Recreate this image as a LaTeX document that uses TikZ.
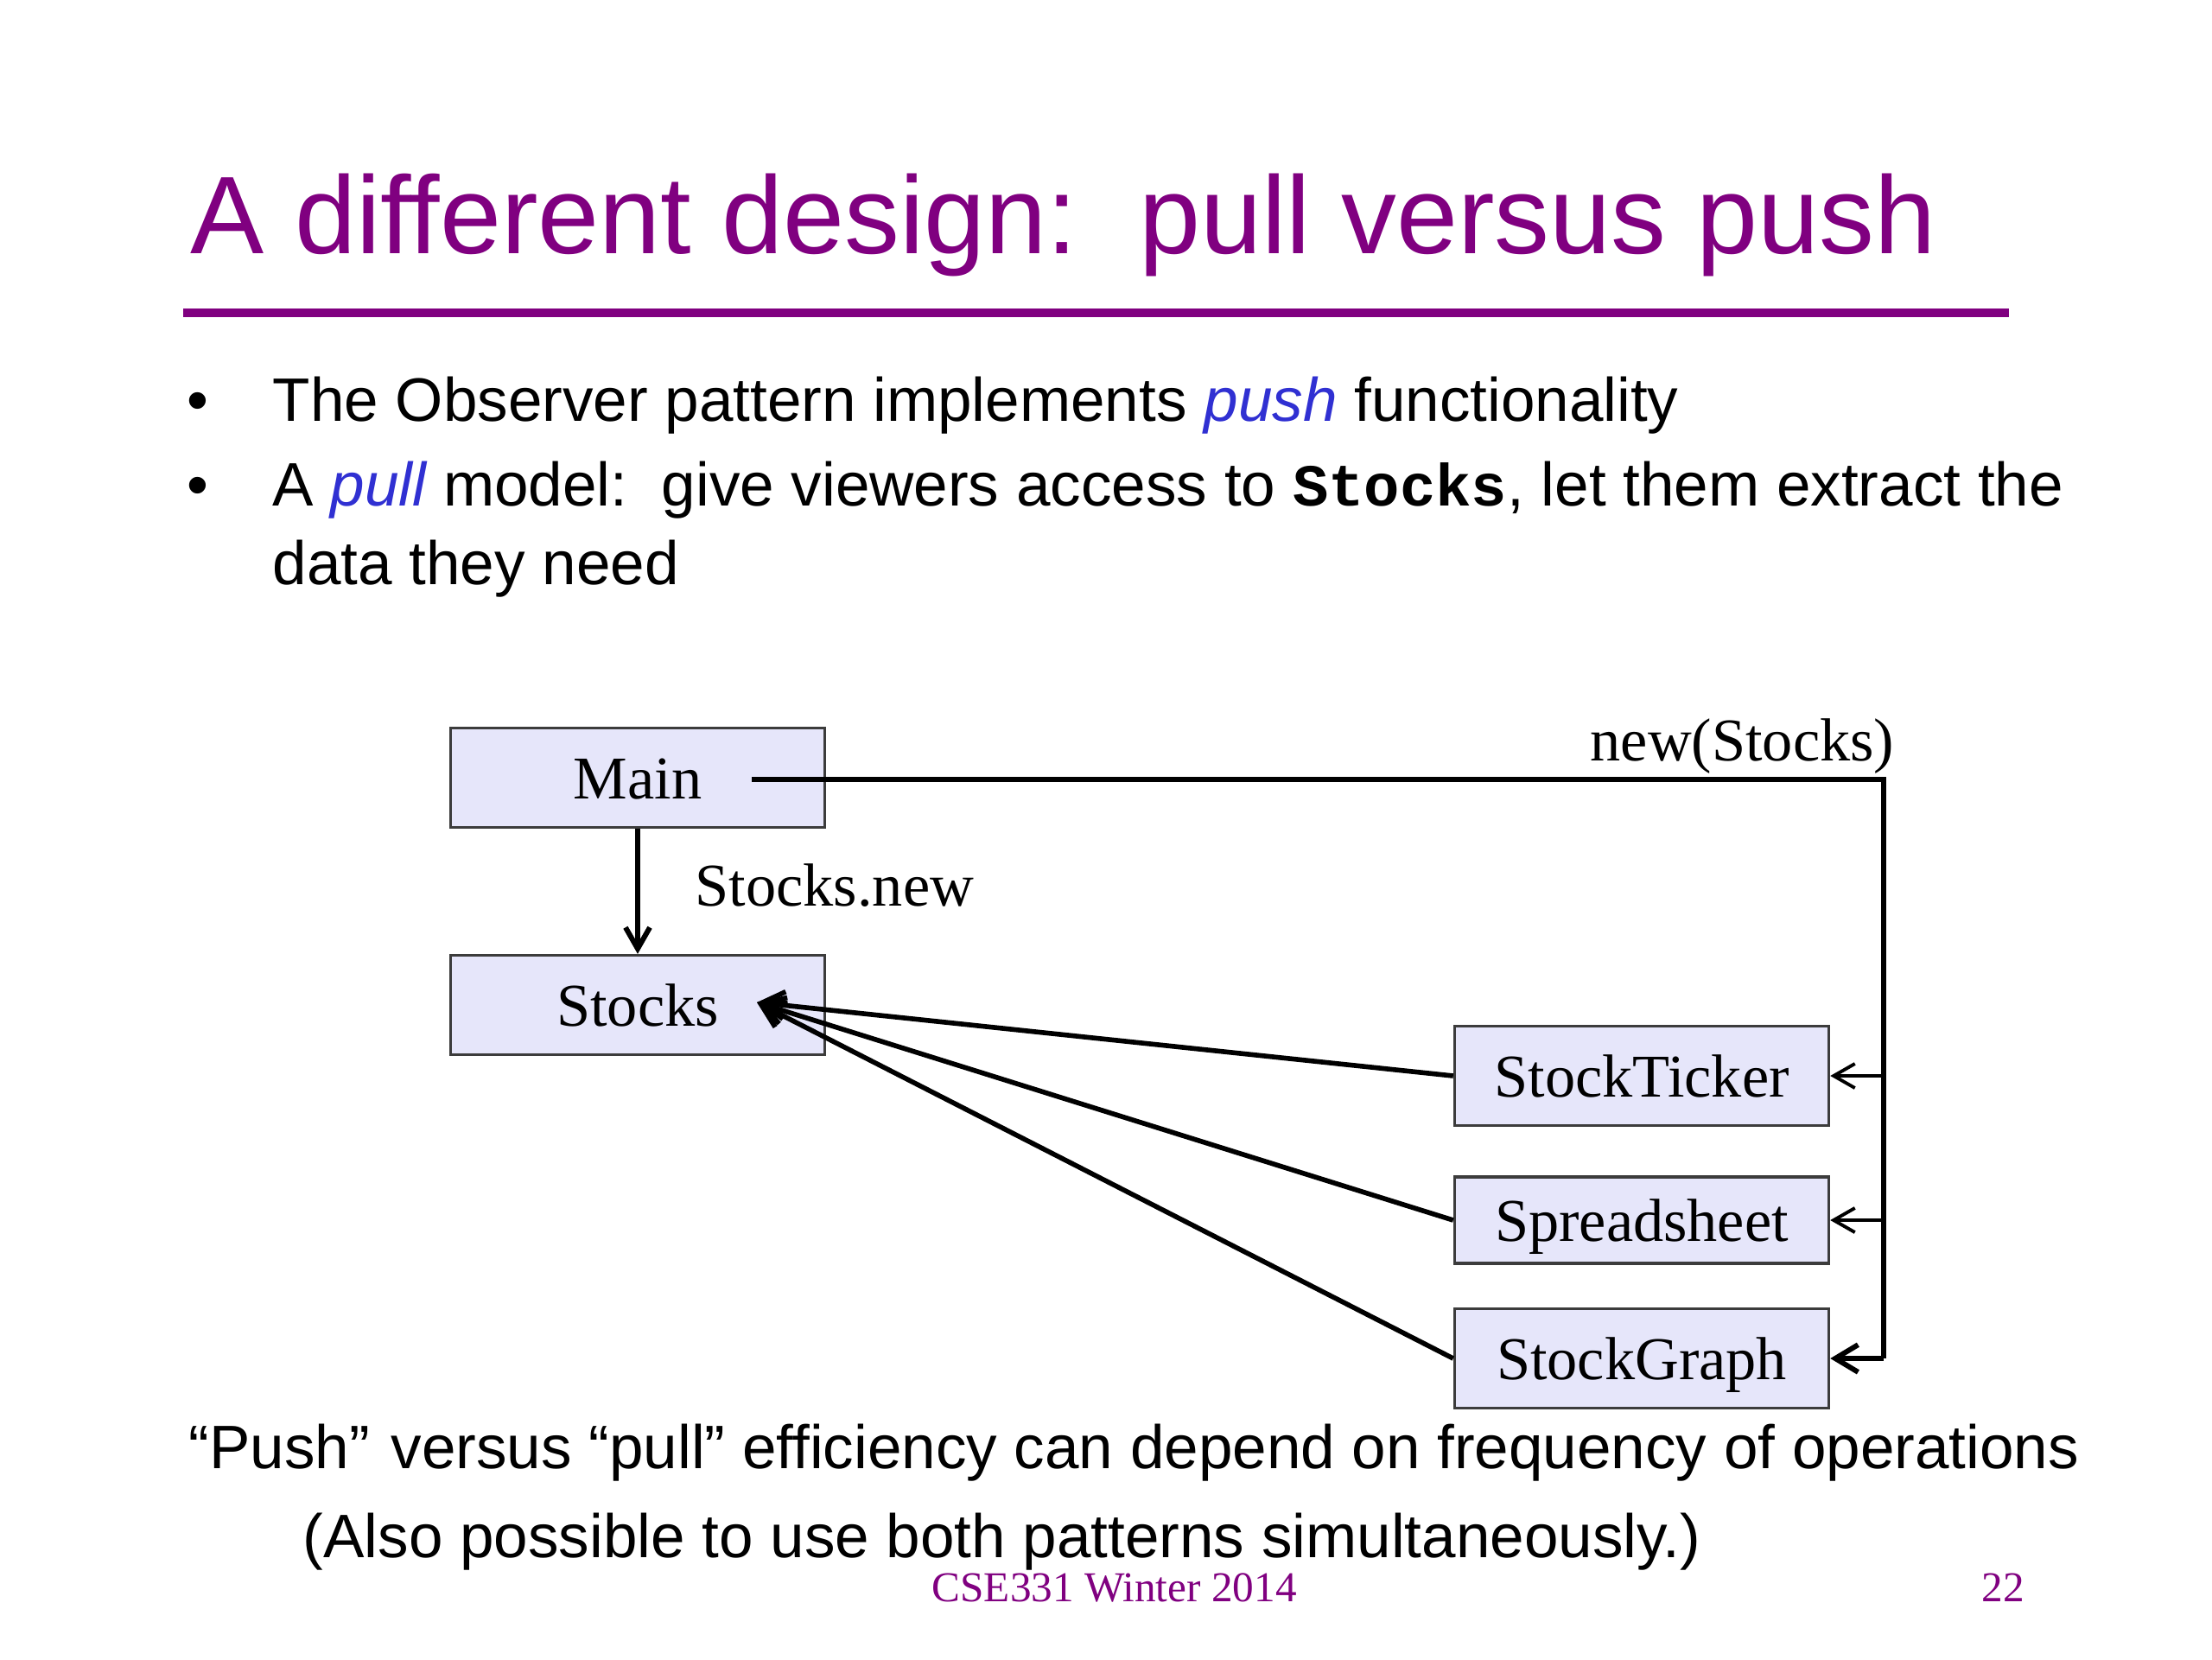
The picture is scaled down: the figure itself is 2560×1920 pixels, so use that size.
\documentclass[tikz,border=0pt]{standalone}
\usepackage{fontspec}
\setmainfont{Liberation Serif}
\newfontfamily\arialfont{Liberation Sans}
\newfontfamily\courfont{Liberation Mono}
\usetikzlibrary{arrows.meta}

\definecolor{slidepurple}{RGB}{128,0,128}
\definecolor{emblue}{RGB}{48,48,210}
\definecolor{boxfill}{RGB}{230,230,250}
\definecolor{boxline}{RGB}{60,60,60}

\tikzset{
	classbox/.style={draw=boxline, fill=boxfill, line width=0.9pt, minimum width=4.33cm,
		minimum height=1.15cm, inner sep=0pt, font=\fontsize{20}{24}\selectfont,
		text height=14.2pt, text depth=0pt},
	link/.style={line width=1.7pt},
	barb/.style={-{Straight Barb[length=7pt,width=8pt]}},
	slidetext/.style={anchor=base west, inner sep=0pt, font=\arialfont\fontsize{20.2}{24}\selectfont}
}

\begin{document}
\begin{tikzpicture}[x=0.01cm, y=-0.01cm]
	\useasboundingbox (0,0) rectangle (2560,1920);

	% title
	\node[anchor=base west, inner sep=0pt, text=slidepurple,
		font=\arialfont\fontsize{36.3}{40}\selectfont] (title) at (220,293)
		{A different design:\ \ pull versus push};
	\draw[slidepurple, line width=3.1pt] (212,362) -- (2325,362);

	% bullets
	\node[slidetext] (dot1) at (216,487) {\textbullet};
	\node[slidetext] (item1) at (315,487)
		{The Observer pattern implements {\color{emblue}\itshape push} functionality};
	\node[slidetext] (dot2) at (216,585) {\textbullet};
	\node[slidetext] (item2) at (315,585)
		{A {\color{emblue}\itshape pull} model:\ \ give viewers access to {\courfont\bfseries\fontsize{19.6}{24}\selectfont Stocks}, let them extract the};
	\node[slidetext] (item2b) at (315,676) {data they need};

	% classes
	\node[classbox] (main) at (738,900) {Main};
	\node[classbox] (stocks) at (738,1163) {Stocks};
	\node[classbox] (ticker) at (1900,1245) {StockTicker};
	\node[classbox, minimum height=1.0cm] (sheet) at (1900,1412) {Spreadsheet};
	\node[classbox] (graph) at (1900,1572) {StockGraph};

	% Main creates Stocks
	\draw[link, barb] (main.south) -- (stocks.north);
	\node[anchor=base west, inner sep=0pt, font=\fontsize{20}{24}\selectfont] (newlbl) at (804,1048) {Stocks.new};

	% Main hands Stocks to the viewers
	\coordinate (mainout) at (870,902);
	\coordinate (corner) at (2180,902);
	\draw[link] (mainout) -- (corner) -- (corner |- graph.east);
	\draw[line width=1.1pt, barb] (corner |- ticker.east) -- (ticker.east);
	\draw[line width=1.1pt, barb] (corner |- sheet.east) -- (sheet.east);
	\draw[link, -{Straight Barb[length=7.5pt,width=9pt]}] (corner |- graph.east) -- (graph.east);
	\node[anchor=base east, inner sep=0pt, font=\fontsize{20}{24}\selectfont] (passlbl) at (2193,880) {new(Stocks)};

	% viewers pull from Stocks
	\coordinate (pull) at (876,1160);
	\foreach \v in {ticker, sheet, graph}
		\draw[line width=1.6pt, -{Straight Barb[length=7.5pt,width=9pt]}] (\v.west) -- (pull);

	% closing remarks
	\node[slidetext] (note1) at (218,1699)
		{“Push”\hspace{0.35em}versus “pull” efficiency can depend on frequency of operations};
	\node[slidetext] (note2) at (350,1802)
		{(Also possible to use both patterns simultaneously.)};

	% footer
	\node[anchor=base west, inner sep=0pt, text=slidepurple, font=\fontsize{14}{16}\selectfont] (course) at (1078,1853) {CSE331 Winter 2014};
	\node[anchor=base west, inner sep=0pt, text=slidepurple, font=\fontsize{14}{16}\selectfont] (pageno) at (2293,1853) {22};
\end{tikzpicture}
\end{document}
